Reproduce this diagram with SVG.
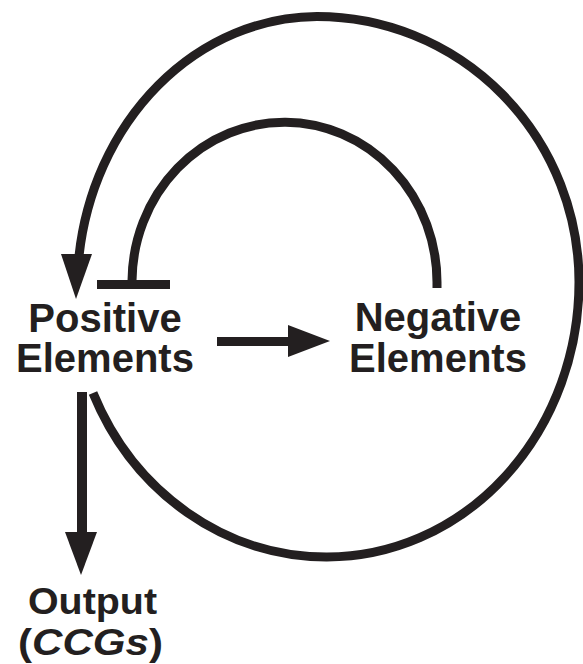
<svg xmlns="http://www.w3.org/2000/svg" width="583" height="664" viewBox="0 0 583 664">
<style>
.ln{fill:none;stroke:#231f20;stroke-width:9}
.hd{fill:#231f20}
.t{font-family:"Liberation Sans",Arial,sans-serif;font-weight:bold;fill:#231f20;text-anchor:middle}
</style>
<rect width="583" height="664" fill="#fff"/>
<g id="connectors">
<path class="ln" d="M93,393 A255,275 0 0 0 327,557 A252,275 0 0 0 579,282 A262,265.5 0 0 0 317,16.5 A241,273 0 0 0 79,256"/>
<polygon class="hd" points="61,254 92,254 76,299"/>
<path class="ln" d="M132,281 A152.5,160 0 0 1 437,283.5 L437,288"/>
<rect class="hd" x="97" y="280" width="73" height="9"/>
<line class="ln" x1="217" y1="341.5" x2="292" y2="341.5"/>
<polygon class="hd" points="288,325 330,341 288,357"/>
<line class="ln" style="stroke-width:10" x1="82" y1="392" x2="82" y2="535"/>
<polygon class="hd" points="65,532 97,532 81,575"/>
</g>
<g id="positive">
<text class="t" x="105" y="332" font-size="40">Positive</text>
<text class="t" x="105" y="372" font-size="40">Elements</text>
</g>
<g id="negative">
<text class="t" x="438" y="331" font-size="40">Negative</text>
<text class="t" x="438" y="372" font-size="40">Elements</text>
</g>
<g id="output">
<text class="t" x="92.5" y="614" font-size="37" textLength="129" lengthAdjust="spacingAndGlyphs">Output</text>
<text class="t" x="90.5" y="655" font-size="37" textLength="145" lengthAdjust="spacingAndGlyphs">(<tspan font-style="italic">CCGs</tspan>)</text>
</g>
</svg>
